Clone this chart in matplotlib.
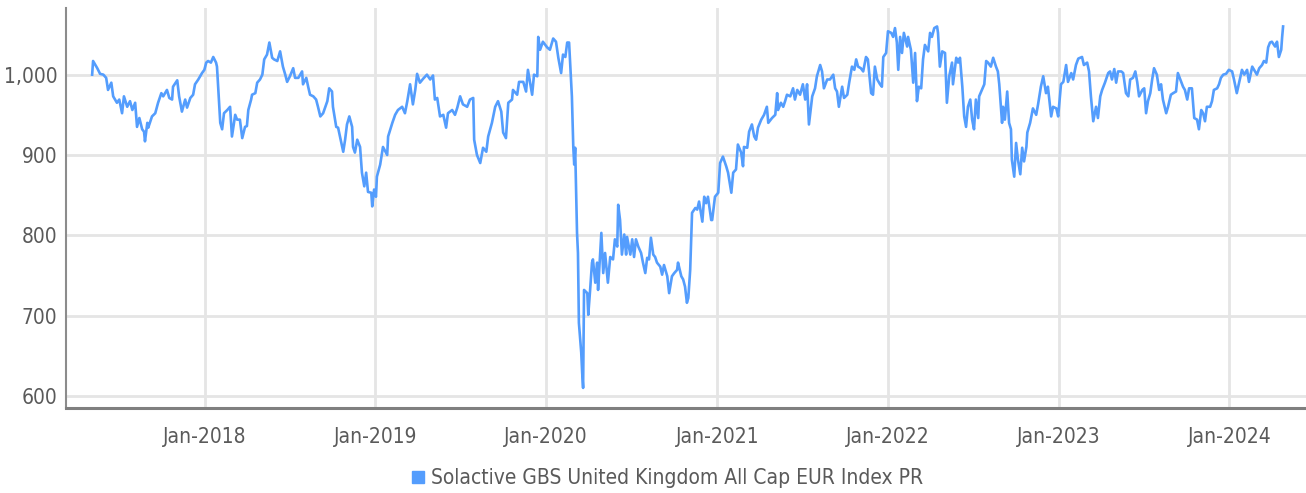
import matplotlib.pyplot as plt
import matplotlib.dates as mdates
from matplotlib.lines import Line2D
from matplotlib import font_manager
import pandas as pd

start_date = "2017-05-05"
day_offset = [
    0, 2, 11, 17, 24, 30, 34, 41, 45, 53, 58, 64, 68, 75, 81, 86, 92, 96, 101, 107,
    111, 113, 118, 120, 128, 135, 141, 148, 152, 160, 165, 171, 173, 182, 186, 192, 199, 203, 210, 216,
    220, 227, 235, 240, 244, 248, 254, 259, 265, 267, 274, 278, 282, 289, 295, 299, 306, 310, 316, 321,
    327, 331, 334, 340, 342, 349, 353, 359, 364, 368, 374, 379, 385, 389, 396, 402, 408, 413, 417, 423,
    430, 434, 441, 449, 451, 458, 462, 466, 473, 479, 483, 488, 494, 503, 507, 513, 515, 522, 526, 530,
    537, 541, 545, 550, 556, 558, 562, 567, 573, 577, 582, 586, 590, 597, 599, 603, 607, 609,
    616, 622, 631, 633, 642, 648, 654, 663, 669, 674, 680, 686, 691, 695, 701, 708, 716, 723, 729, 733,
    738, 744, 751, 757, 761, 770, 776, 781, 787, 793, 802, 808, 815, 817, 823, 830, 836, 843, 847, 855,
    862, 868, 875, 879, 885, 890, 898, 900, 909, 913, 922, 928, 932, 941, 945, 952, 954, 958, 964, 973,
    979, 986, 992, 997, 1003, 1007, 1012, 1016, 1020, 1026, 1029, 1031, 1033, 1037, 1039, 1041, 1046, 1048, 1050, 1052,
    1059, 1061, 1065, 1069, 1071, 1076, 1080, 1082, 1089, 1093, 1097, 1103, 1108, 1114, 1118, 1123, 1125, 1129, 1133, 1138,
    1142, 1144, 1151, 1155, 1159, 1163, 1168, 1174, 1178, 1183, 1187, 1191, 1195, 1200, 1204, 1208, 1215, 1219, 1223, 1230,
    1234, 1240, 1245, 1251, 1253, 1260, 1264, 1268, 1272, 1275, 1279, 1283, 1290, 1294, 1298, 1305, 1309, 1313, 1317, 1324,
    1326, 1332, 1339, 1343, 1349, 1356, 1360, 1367, 1371, 1377, 1381, 1388, 1392, 1394, 1401, 1405, 1411, 1416, 1420, 1424,
    1431, 1437, 1443, 1446, 1454, 1461, 1465, 1467, 1473, 1478, 1482, 1486, 1493, 1499, 1503, 1508, 1514, 1520, 1525, 1529,
    1533, 1540, 1546, 1550, 1557, 1561, 1565, 1572, 1578, 1585, 1589, 1593, 1597, 1604, 1608, 1615, 1619, 1625, 1630, 1634,
    1638, 1644, 1649, 1655, 1659, 1666, 1670, 1674, 1679, 1685, 1689, 1692, 1698, 1702, 1709, 1713, 1717, 1721, 1724, 1728,
    1732, 1736, 1743, 1745, 1751, 1756, 1760, 1764, 1768, 1773, 1777, 1781, 1788, 1792, 1796, 1801, 1807, 1809, 1813, 1818,
    1824, 1828, 1833, 1839, 1841, 1848, 1852, 1856, 1861, 1865, 1869, 1873, 1878, 1882, 1886, 1890, 1895, 1897, 1903, 1908,
    1912, 1916, 1922, 1927, 1933, 1937, 1940, 1946, 1948, 1952, 1957, 1961, 1965, 1967, 1972, 1976, 1980, 1985, 1989, 1993,
    1998, 2000, 2006, 2012, 2019, 2023, 2029, 2034, 2040, 2044, 2051, 2055, 2062, 2066, 2072, 2077, 2083, 2087, 2094, 2098,
    2104, 2109, 2117, 2121, 2128, 2132, 2136, 2141, 2147, 2151, 2156, 2160, 2166, 2173, 2177, 2181, 2186, 2190, 2194, 2201,
    2205, 2211, 2216, 2220, 2226, 2231, 2235, 2239, 2246, 2250, 2254, 2258, 2263, 2267, 2271, 2277, 2282, 2286, 2290, 2297,
    2301, 2307, 2312, 2318, 2322, 2329, 2333, 2337, 2342, 2346, 2352, 2357, 2363, 2367, 2372, 2376, 2380, 2384, 2391, 2395,
    2399, 2406, 2410, 2414, 2419, 2425, 2431, 2438, 2442, 2448, 2453, 2459, 2464, 2470, 2474, 2481, 2485, 2491, 2496, 2502,
    2506, 2511, 2515, 2519, 2523, 2530, 2534, 2538, 2543, 2545, 2547,
]
index_value = [
    1000, 1017, 1008, 1001, 1000, 996, 981, 990, 973, 965, 969, 952, 973, 960, 967, 956, 965, 935, 946, 932,
    929, 917, 940, 934, 948, 952, 965, 977, 973, 981, 971, 969, 985, 993, 973, 954, 969, 959, 971, 975,
    988, 994, 1002, 1006, 1015, 1017, 1015, 1022, 1015, 1010, 940, 932, 952, 956, 960, 923, 950, 944, 944, 921,
    935, 936, 956, 969, 975, 977, 990, 994, 1000, 1019, 1025, 1040, 1021, 1019, 1017, 1029, 1010, 1000, 991, 998,
    1008, 996, 996, 1004, 988, 996, 985, 975, 973, 969, 960, 948, 952, 967, 983, 979, 960, 935, 934, 923,
    904, 919, 938, 948, 935, 910, 903, 919, 910, 878, 861, 878, 854, 853, 836, 857, 848, 873,
    888, 910, 900, 923, 940, 950, 956, 960, 952, 967, 988, 963, 981, 1001, 990, 995, 1000, 994, 999, 969,
    971, 948, 950, 934, 952, 956, 950, 959, 973, 963, 960, 969, 971, 919, 900, 890, 909, 904, 923, 940,
    960, 967, 954, 928, 921, 965, 969, 981, 975, 991, 991, 979, 1006, 975, 1000, 998, 1047, 1031, 1041, 1034,
    1031, 1045, 1041, 1021, 1002, 1025, 1022, 1040, 1040, 973, 910, 888, 909, 803, 778, 691, 654, 629, 610, 732,
    728, 701, 732, 766, 770, 741, 766, 732, 803, 753, 778, 741, 773, 770, 795, 786, 838, 819, 776, 801,
    776, 798, 776, 795, 773, 795, 786, 778, 766, 753, 772, 770, 797, 776, 773, 766, 761, 751, 763, 749,
    728, 749, 753, 757, 766, 749, 745, 736, 716, 722, 757, 828, 834, 832, 842, 817, 848, 840, 848, 819,
    819, 848, 853, 890, 898, 886, 878, 853, 878, 882, 913, 903, 886, 910, 909, 929, 938, 923, 919, 934,
    944, 950, 960, 940, 946, 950, 977, 956, 965, 960, 967, 975, 973, 983, 969, 981, 975, 988, 969, 988,
    938, 973, 983, 998, 1012, 1004, 983, 994, 994, 1000, 983, 979, 960, 985, 971, 975, 990, 1010, 1006, 1019,
    1010, 1008, 1004, 1022, 1019, 977, 975, 1010, 994, 988, 985, 1022, 1027, 1054, 1052, 1047, 1058, 1040, 1006, 1047,
    1027, 1052, 1035, 1047, 1031, 990, 1027, 967, 985, 983, 1019, 1037, 1029, 1052, 1047, 1058, 1060, 1052, 1010, 1029,
    1027, 965, 998, 1015, 988, 1021, 1015, 1021, 985, 948, 935, 960, 969, 944, 932, 969, 946, 973, 981, 988,
    1017, 1015, 1010, 1021, 1010, 1004, 988, 940, 960, 944, 979, 940, 932, 894, 873, 915, 894, 876, 909, 892,
    910, 928, 940, 958, 950, 963, 985, 998, 977, 985, 948, 960, 958, 948, 988, 991, 1012, 991, 1002, 994,
    1012, 1020, 1022, 1012, 1015, 1004, 973, 942, 960, 946, 973, 981, 990, 1002, 1004, 994, 1007, 990, 1004, 1004,
    1002, 977, 973, 994, 996, 1004, 991, 973, 981, 983, 952, 967, 977, 994, 1008, 1000, 981, 988, 969, 952,
    960, 975, 977, 979, 1002, 991, 985, 981, 969, 983, 983, 946, 944, 932, 956, 952, 942, 960, 960, 967,
    981, 983, 988, 996, 1000, 1001, 1006, 1004, 994, 977, 990, 1006, 1000, 1006, 991, 1010, 1006, 1000, 1008, 1012,
    1017, 1015, 1034, 1040, 1041, 1035, 1041, 1022, 1031, 1047, 1060,
]
year_ticks = ["2018-01-01", "2019-01-01", "2020-01-01", "2021-01-01",
              "2022-01-01", "2023-01-01", "2024-01-01"]
y_ticks = [600, 700, 800, 900, 1000]
series_name = "Solactive GBS United Kingdom All Cap EUR Index PR"

# a narrow face if one is around, else DejaVu condensed
names = {f.name for f in font_manager.fontManager.ttflist}
if 'Liberation Sans Narrow' in names:
    plt.rcParams['font.family'] = ['Liberation Sans Narrow', 'DejaVu Sans']
    fsize = 15.5
else:
    plt.rcParams['font.family'] = ['DejaVu Sans']
    plt.rcParams['font.stretch'] = 'condensed'
    fsize = 15
print(sorted(n for n in names if 'Narrow' in n or 'Cond' in n))

dates = pd.Timestamp(start_date) + pd.to_timedelta(day_offset, unit='D')
line_color = '#549dfd'
text_color = '#5a5a5a'

fig = plt.figure(figsize=(13.06, 4.93), dpi=100)
ax = fig.add_axes([0.0505, 0.1724, 0.9495, 0.8114])

ax.plot(dates, index_value, color=line_color, linewidth=1.9, zorder=3)

ax.set_xlim(pd.Timestamp("2017-03-10"), pd.Timestamp("2024-06-13"))
ax.set_ylim(585, 1083)
ax.set_xticks(pd.to_datetime(year_ticks))
ax.xaxis.set_major_formatter(mdates.DateFormatter('%b-%Y'))
ax.set_yticks(y_ticks)
ax.yaxis.set_major_formatter(plt.FuncFormatter(lambda v, p: f'{v:,.0f}'))

ax.grid(True, color='#e5e5e5', linewidth=2, zorder=0)
ax.tick_params(length=0, labelsize=fsize, colors=text_color)
ax.tick_params(axis='x', pad=14)
ax.tick_params(axis='y', pad=6)
for s in ['top', 'right']:
    ax.spines[s].set_visible(False)
ax.spines['left'].set_color('#8c8c8c')
ax.spines['left'].set_linewidth(1.5)
ax.spines['bottom'].set_color('#7f7f7f')
ax.spines['bottom'].set_linewidth(2.2)

handle = Line2D([], [], color=line_color, marker='s', linestyle='none', markersize=8)
fig.legend([handle], [series_name], loc='center', bbox_to_anchor=(0.511, 0.03),
           frameon=False, fontsize=fsize, labelcolor=text_color,
           handlelength=0.6, handletextpad=0.3)

fig.savefig('out.png', dpi=100)
